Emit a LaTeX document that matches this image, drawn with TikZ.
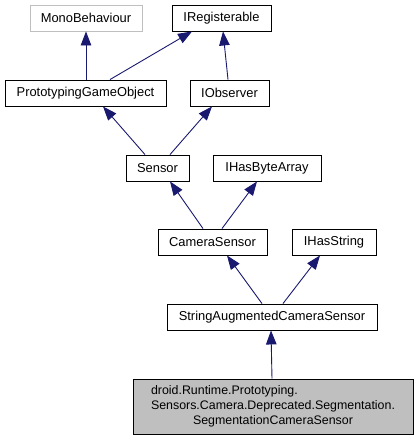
\documentclass[tikz,border=0pt]{standalone}
\usepackage{fontspec}
\setmainfont{Liberation Sans}
\usepackage{tikz}
\usetikzlibrary{
    arrows.meta
}
\definecolor{edgeblue}{HTML}{191970}
\definecolor{boxgray}{HTML}{BFBFBF}

\begin{document}
\begin{tikzpicture}[x=1pt,y=-1pt,
    cls/.style={draw=black, line width=0.9pt, minimum height=26pt, inner sep=0pt,
        font=\fontsize{12.9}{15}\selectfont},
    extcls/.style={cls, draw=boxgray},
    inh/.style={draw=edgeblue, line width=0.9pt,
        -{Triangle[length=14pt,width=10.5pt,fill=edgeblue]}}
]

\useasboundingbox (0,0) rectangle (417,440);

% Top row
\node[extcls, minimum width=112pt] (mono) at (86,18) {MonoBehaviour};
\node[cls, minimum width=99pt] (ireg) at (221.5,18) {IRegisterable};

% Second row
\node[cls, minimum width=161pt] (pgo) at (85.5,93) {PrototypingGameObject};
\node[cls, minimum width=79pt] (iobs) at (229.5,93) {IObserver};

% Third row
\node[cls, minimum width=63pt] (sensor) at (157.5,168) {Sensor};
\node[cls, minimum width=108pt] (ihba) at (267,168) {IHasByteArray};

% Fourth row
\node[cls, minimum width=109pt] (cam) at (212.5,242) {CameraSensor};
\node[cls, minimum width=84pt] (ihs) at (334,242) {IHasString};

% Fifth row
\node[cls, minimum width=210pt] (sacs) at (272,317) {StringAugmentedCameraSensor};

% Documented class
\node[cls, fill=boxgray, minimum width=280pt, minimum height=55pt,
      font=\fontsize{12.4}{15}\selectfont] (seg) at (273,406.5)
    {\begin{tabular}{@{}l@{}}
     droid.Runtime.Prototyping.\\
     Sensors.Camera.Deprecated.Segmentation.\\
     \multicolumn{1}{@{}c@{}}{SegmentationCameraSensor}
     \end{tabular}};

% Inheritance
\draw[inh] ([xshift=0.5pt]pgo.north) -- (mono.south);
\draw[inh] ([xshift=24.5pt]pgo.north) -- ([xshift=-29.5pt]ireg.south);
\draw[inh] ([xshift=-1.5pt]iobs.north) -- ([xshift=1.5pt]ireg.south);
\draw[inh] ([xshift=-12.5pt]sensor.north) -- ([xshift=17.5pt]pgo.south);
\draw[inh] ([xshift=12.5pt]sensor.north) -- ([xshift=-17.5pt]iobs.south);
\draw[inh] ([xshift=-9.5pt]cam.north) -- ([xshift=12.5pt]sensor.south);
\draw[inh] ([xshift=9.5pt]cam.north) -- ([xshift=-10pt]ihba.south);
\draw[inh] ([xshift=-10pt]sacs.north) -- ([xshift=14.5pt]cam.south);
\draw[inh] ([xshift=11pt]sacs.north) -- ([xshift=-14pt]ihs.south);
\draw[inh] ([xshift=-1pt]seg.north) -- ([xshift=-1pt]sacs.south);

\end{tikzpicture}
\end{document}
